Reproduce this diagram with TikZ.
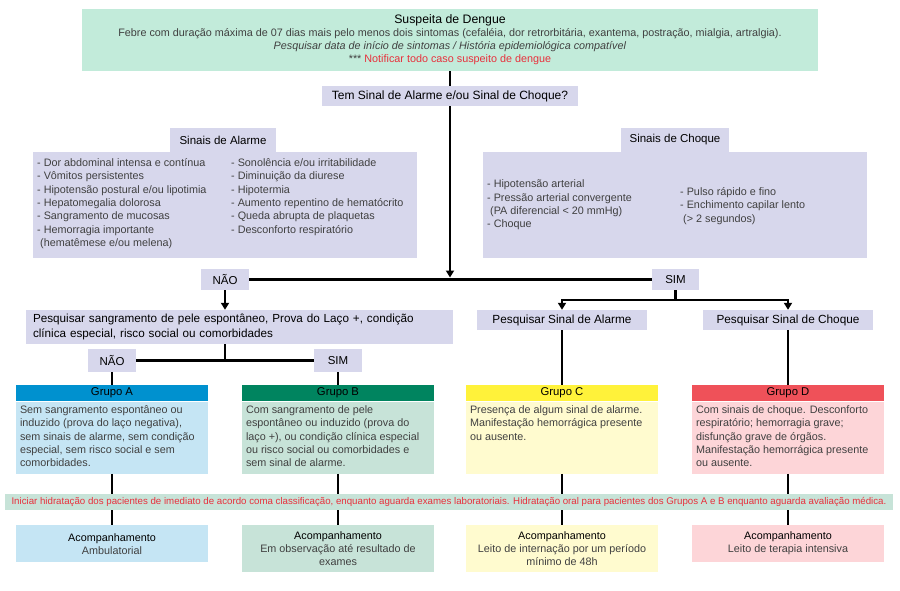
\documentclass[tikz,border=0pt]{standalone}
\usepackage{fontspec}
\setmainfont{Liberation Sans}
\usetikzlibrary{arrows.meta}
\definecolor{verdetopo}{HTML}{C2EBDA}
\definecolor{lilas}{HTML}{D7D7EC}
\definecolor{azulforte}{HTML}{0091CF}
\definecolor{azulclaro}{HTML}{C5E5F4}
\definecolor{verdeforte}{HTML}{00845F}
\definecolor{verdeclaro}{HTML}{C7E3D8}
\definecolor{amareloforte}{HTML}{FFF23A}
\definecolor{amareloclaro}{HTML}{FFFBCF}
\definecolor{vermelhoforte}{HTML}{EF5159}
\definecolor{vermelhoclaro}{HTML}{FDD5D8}
\definecolor{vermelho}{HTML}{E8303C}
\definecolor{cinza}{HTML}{404040}
\tikzset{
  caixa/.style={fill=lilas, inner sep=0pt, font=\fontsize{11.5}{13}\selectfont},
  lista/.style={align=left, inner sep=0pt, font=\fontsize{10.8}{13.3}\selectfont, text=cinza},
  linha/.style={line width=2.2pt},
  seta/.style={line width=2.2pt, -{Triangle[length=7pt,width=8pt]}},
  cabecalho/.style={minimum width=192pt, minimum height=16pt, inner sep=0pt, anchor=north, font=\fontsize{11.3}{13}\selectfont},
  corpo/.style={minimum width=192pt, inner sep=4pt, anchor=north, font=\fontsize{10.8}{13.3}\selectfont, text=cinza},
  acomp/.style={minimum width=192pt, inner sep=0pt, anchor=north, align=center, font=\fontsize{10.8}{13}\selectfont}
}
\newcommand{\textogrupo}[1]{\parbox[c][64pt][t]{184pt}{\raggedright #1}}
\begin{document}
\begin{tikzpicture}[x=1pt, y=-1pt]
  \useasboundingbox (0,0) rectangle (900,591);

  \node (suspeita) at (450,40) [fill=verdetopo, minimum width=736pt, minimum height=62pt,
    inner sep=0pt, align=center, text=cinza, font=\fontsize{10.8}{13}\selectfont]
    {{\color{black}\fontsize{12.3}{13}\selectfont Suspeita de Dengue}\\
     Febre com duração máxima de 07 dias mais pelo menos dois sintomas (cefaléia, dor retrorbitária, exantema, postração, mialgia, artralgia).\\
     \textit{Pesquisar data de início de sintomas / História epidemiológica compatível}\\
     *** \textcolor{vermelho}{Notificar todo caso suspeito de dengue}};
  \node (pergunta) at (450,96) [caixa, minimum width=256pt, minimum height=20pt, font=\fontsize{12}{13}\selectfont]
    {Tem Sinal de Alarme e/ou Sinal de Choque?};

  \node (alarmebox) at (225,205) [caixa, minimum width=384pt, minimum height=106pt] {};
  \node (alarmetit) at (223,140) [caixa, minimum width=106pt, minimum height=24pt] {Sinais de Alarme};
  \node (alarmeesq) at (37,158.5) [lista, anchor=north west]
    {- Dor abdominal intensa e contínua\\
     - Vômitos persistentes\\
     - Hipotensão postural e/ou lipotimia\\
     - Hepatomegalia dolorosa\\
     - Sangramento de mucosas\\
     - Hemorragia importante\\
     \hspace*{3pt}(hematêmese e/ou melena)};
  \node (alarmedir) at (231,158.5) [lista, anchor=north west]
    {- Sonolência e/ou irritabilidade\\
     - Diminuição da diurese\\
     - Hipotermia\\
     - Aumento repentino de hematócrito\\
     - Queda abrupta de plaquetas\\
     - Desconforto respiratório};

  \node (choquebox) at (675,205) [caixa, minimum width=384pt, minimum height=106pt] {};
  \node (choquetit) at (675,140) [caixa, minimum width=108pt, minimum height=24pt] {Sinais de Choque};
  \node (choqueesq) at (487,205) [lista, anchor=west]
    {- Hipotensão arterial\\
     - Pressão arterial convergente\\
     \hspace*{3pt}(PA diferencial < 20 mmHg)\\
     - Choque};
  \node (choquedir) at (680,206) [lista, anchor=west]
    {- Pulso rápido e fino\\
     - Enchimento capilar lento\\
     \hspace*{3pt}(> 2 segundos)};

  \node (nao1) at (225,279.5) [caixa, minimum width=48pt, minimum height=21pt] {NÃO};
  \node (sim1) at (675.5,279.5) [caixa, minimum width=47pt, minimum height=21pt] {SIM};
  \coordinate (juncao) at (450,279.5);

  \node (pesquisa) at (239.5,327) [caixa, minimum width=427pt, minimum height=34pt,
    text width=413pt, align=left, font=\fontsize{11.7}{15}\selectfont]
    {Pesquisar sangramento de pele espontâneo, Prova do Laço +, condição\\ clínica especial, risco social ou comorbidades};
  \node (psa) at (562,320) [caixa, minimum width=170pt, minimum height=20pt, font=\fontsize{11.8}{13}\selectfont] {Pesquisar Sinal de Alarme};
  \node (psc) at (788,320) [caixa, minimum width=170pt, minimum height=20pt, font=\fontsize{11.8}{13}\selectfont] {Pesquisar Sinal de Choque};
  \coordinate (ramo) at (675.5,300);

  \node (nao2) at (112,360.5) [caixa, minimum width=48pt, minimum height=23pt] {NÃO};
  \node (sim2) at (338,360.5) [caixa, minimum width=48pt, minimum height=23pt] {SIM};

  \node (grupoA) at (112,385) [cabecalho, fill=azulforte] {Grupo A};
  \node (grupoB) at (338,385) [cabecalho, fill=verdeforte] {Grupo B};
  \node (grupoC) at (562,385) [cabecalho, fill=amareloforte] {Grupo C};
  \node (grupoD) at (788,385) [cabecalho, fill=vermelhoforte] {Grupo D};
  \node (corpoA) at (grupoA.south) [corpo, fill=azulclaro] {\textogrupo{Sem sangramento espontâneo ou\\
    induzido (prova do laço negativa),\\ sem sinais de alarme, sem condição\\ especial, sem risco social e sem\\ comorbidades.}};
  \node (corpoB) at (grupoB.south) [corpo, fill=verdeclaro] {\textogrupo{Com sangramento de pele\\
    espontâneo ou induzido (prova do\\ laço +), ou condição clínica especial\\ ou risco social ou comorbidades e\\ sem sinal de alarme.}};
  \node (corpoC) at (grupoC.south) [corpo, fill=amareloclaro] {\textogrupo{Presença de algum sinal de alarme.\\
    Manifestação hemorrágica presente\\ ou ausente.}};
  \node (corpoD) at (grupoD.south) [corpo, fill=vermelhoclaro] {\textogrupo{Com sinais de choque. Desconforto\\
    respiratório; hemorragia grave;\\ disfunção grave de órgãos.\\ Manifestação hemorrágica presente\\ ou ausente.}};

  \node (acompA) at (112,525) [acomp, fill=azulclaro, minimum height=37pt]
    {Acompanhamento\\ \textcolor{cinza}{Ambulatorial}};
  \node (acompB) at (338,525) [acomp, fill=verdeclaro, minimum height=47pt]
    {Acompanhamento\\ \textcolor{cinza}{Em observação até resultado de}\\ \textcolor{cinza}{exames}};
  \node (acompC) at (562,525) [acomp, fill=amareloclaro, minimum height=47pt]
    {Acompanhamento\\ \textcolor{cinza}{Leito de internação por um período}\\ \textcolor{cinza}{mínimo de 48h}};
  \node (acompD) at (788,525) [acomp, fill=vermelhoclaro, minimum height=37pt]
    {Acompanhamento\\ \textcolor{cinza}{Leito de terapia intensiva}};

  % conectores
  \draw[linha] (suspeita.south) -- (pergunta.north);
  \draw[seta, shorten >=2pt] (pergunta.south) -- (juncao);
  \draw[linha] (nao1.east) -- (sim1.west);
  \draw[seta] (nao1.south) -- (nao1.south |- pesquisa.north);
  \draw[linha] (sim1.south) -- (ramo);
  \draw[seta] (ramo) -| (psa.north);
  \draw[seta] (ramo) -| (psc.north);
  \draw[linha] (nao1 |- pesquisa.south) -- (nao1 |- nao2);
  \draw[linha] (nao2.east) -- (sim2.west);
  \draw[linha] (nao2.south) -- (grupoA.north);
  \draw[linha] (sim2.south) -- (grupoB.north);
  \draw[linha] (psa.south) -- (grupoC.north);
  \draw[linha] (psc.south) -- (grupoD.north);
  \foreach \g in {A,B,C,D}
    \draw[linha] (corpo\g.south) -- (acomp\g.north);

  \node (hidratacao) at (449,502) [fill=verdeclaro, minimum width=888pt, minimum height=16pt,
    inner sep=0pt, text=vermelho, font=\fontsize{9.7}{11}\selectfont]
    {Iniciar hidratação dos pacientes de imediato de acordo coma classificação, enquanto aguarda exames laboratoriais. Hidratação oral para pacientes dos Grupos A e B enquanto aguarda avaliação médica.};
\end{tikzpicture}
\end{document}
